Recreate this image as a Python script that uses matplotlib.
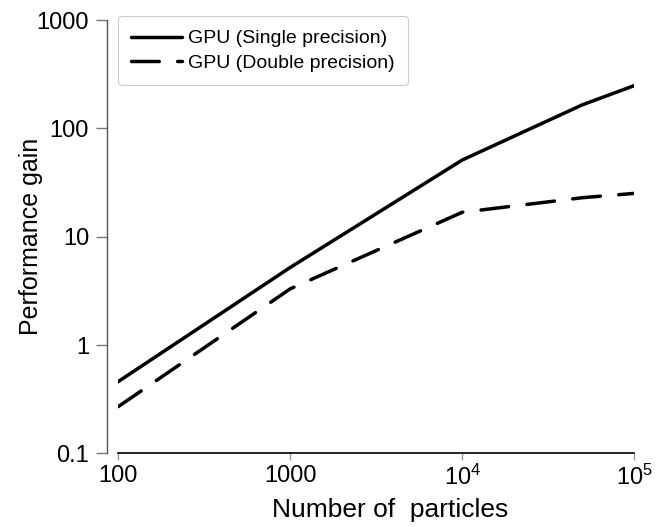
import numpy as np
import matplotlib
matplotlib.use('Agg')
import matplotlib.pyplot as plt

plt.rcParams['font.family'] = ['Liberation Sans', 'DejaVu Sans']
plt.rcParams['mathtext.fontset'] = 'custom'
plt.rcParams['mathtext.rm'] = 'Liberation Sans'
plt.rcParams['mathtext.it'] = 'Liberation Sans'

# data
particles = [100, 1000, 10000, 50000, 100000]
single_gain = [0.46, 5.2, 51, 165, 248]
double_gain = [0.27, 3.3, 16.8, 22.9, 25.1]

x_ticks = [100, 1000, 10000, 100000]
x_labels = ['100', '1000', '$10^4$', '$10^5$']
y_ticks = [0.1, 1, 10, 100, 1000]
y_labels = ['0.1', '1', '10', '100', '1000']

fig = plt.figure(figsize=(6.69, 5.27), dpi=100)
ax = fig.add_axes([0.1768, 0.1398, 0.948 - 0.1768, 0.962 - 0.1398])

ax.plot(particles, single_gain, color='black', lw=2.5,
        solid_capstyle='round', solid_joinstyle='round',
        label='GPU (Single precision)')
ax.plot(particles, double_gain, color='black', lw=2.5,
        dashes=(8, 5.3), dash_capstyle='round', dash_joinstyle='round',
        label='GPU (Double precision)')

ax.set_xscale('log')
ax.set_yscale('log')
ax.set_xlim(100, 100000)
ax.set_ylim(0.1, 1000)
ax.minorticks_off()
ax.set_xticks(x_ticks)
ax.set_xticklabels(x_labels)
ax.set_yticks(y_ticks)
ax.set_yticklabels(y_labels)

for s in ['top', 'right']:
    ax.spines[s].set_visible(False)
ax.spines['left'].set_position(('outward', 8))
ax.spines['left'].set_color('#555555')
ax.spines['left'].set_linewidth(1.0)
ax.spines['bottom'].set_color('black')
ax.spines['bottom'].set_linewidth(1.2)

ax.tick_params(axis='y', length=8, width=1, color='#777777', pad=5, labelsize=17)
ax.tick_params(axis='x', length=5, width=1, color='#999999', pad=3.5, labelsize=17)

ax.set_xlabel('Number of  particles', fontsize=19)
ax.xaxis.set_label_coords(0.527, -0.102)
ax.set_ylabel('Performance gain', fontsize=18)
ax.yaxis.set_label_coords(-0.146, 0.5)

leg = ax.legend(loc='upper left', bbox_to_anchor=(-0.001, 1.009), fontsize=14,
                handlelength=2.6, handletextpad=0.3, labelspacing=0.35,
                borderpad=0.7, borderaxespad=0, fancybox=True, framealpha=1,
                edgecolor='#cccccc')
leg.get_frame().set_linewidth(0.8)

fig.savefig('out.png', dpi=100)
